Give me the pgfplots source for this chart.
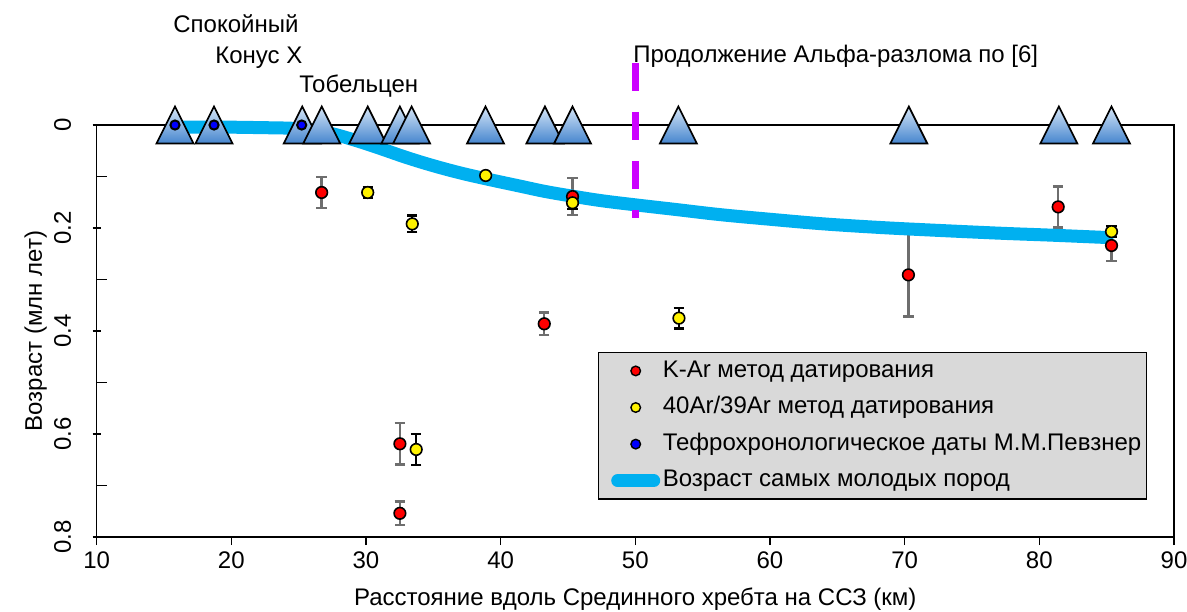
\documentclass[border=0pt]{standalone}
\usepackage{fontspec}
\setmainfont{Liberation Sans}
\usepackage{pgfplots}
\pgfplotsset{compat=1.18}
\definecolor{lineblue}{HTML}{00B0F0}
\definecolor{faultmag}{HTML}{CC00FF}
\definecolor{errgray}{HTML}{6E6E6E}
\definecolor{leggray}{HTML}{D9D9D9}
\definecolor{tritop}{HTML}{D6E6F7}
\definecolor{tribot}{HTML}{4585CE}
\pgfdeclareverticalshading{trishade}{100bp}{color(0bp)=(tribot); color(25bp)=(tribot); color(75bp)=(tritop); color(100bp)=(tritop)}
\pgfdeclareplotmark{shadetri}{%
  \pgfpathmoveto{\pgfqpoint{0pt}{9.25pt}}%
  \pgfpathlineto{\pgfqpoint{-9.25pt}{-9.25pt}}%
  \pgfpathlineto{\pgfqpoint{9.25pt}{-9.25pt}}%
  \pgfpathclose
  \pgfshadepath{trishade}{0}%
  \pgfpathmoveto{\pgfqpoint{0pt}{9.25pt}}%
  \pgfpathlineto{\pgfqpoint{-9.25pt}{-9.25pt}}%
  \pgfpathlineto{\pgfqpoint{9.25pt}{-9.25pt}}%
  \pgfpathclose
  \pgfusepathqstroke
}
\pgfplotstableread{
x y e
26.71 0.131 0.030
32.52 0.619 0.040
32.52 0.754 0.023
43.24 0.386 0.022
45.34 0.139 0.036
70.28 0.291 0.081
81.40 0.159 0.040
85.36 0.234 0.030
}\kar
\pgfplotstableread{
x y e
30.13 0.131 0.011
33.44 0.192 0.016
33.73 0.630 0.030
38.89 0.098 0.000
45.34 0.151 0.012
53.24 0.375 0.020
85.36 0.207 0.011
}\arar
\pgfplotstableread{
x y
15.82 0
18.72 0
25.27 0
26.72 0
30.13 0
32.52 0
33.39 0
38.88 0
43.29 0
45.34 0
53.20 0
70.31 0
81.45 0
85.36 0
}\volc
\pgfplotstableread{
x y
15.82 0
18.72 0
25.23 0
}\tefro
\begin{document}
\begin{tikzpicture}[font=\fontsize{12}{14.4}\selectfont]
\begin{axis}[
  scale only axis, width=538.7pt, height=206pt,
  xmin=10, xmax=90, ymin=0, ymax=0.8, y dir=reverse,
  xtick={10,20,...,90}, ytick={0,0.2,0.4,0.6,0.8},
  minor ytick={0.1,0.3,0.5,0.7},
  xtick pos=bottom, ytick pos=left,
  xtick align=outside, ytick align=center,
  major tick length=4pt, minor tick length=5pt,
  minor y tick style={xshift=2.5pt},
  tick style={black, line width=0.7pt},
  axis line style={line width=0.8pt},
  clip=false,
  /pgf/number format/assume math mode=true,
  tick label style={font=\fontsize{12}{14.4}\selectfont},
  yticklabel style={xshift=-10.8pt, rotate=90, anchor=base, inner sep=0pt},
  xticklabel style={anchor=base, inner sep=0pt, yshift=-11.5pt},
  xlabel={Расстояние вдоль Срединного хребта на ССЗ (км)},
  ylabel={Возраст (млн лет)},
  xlabel style={at={([yshift=-34pt]axis description cs:0.5,0)}, anchor=base, inner sep=0pt},
  ylabel style={at={([xshift=-27.3pt]axis description cs:0,0.5)}, anchor=base, inner sep=0pt},
  legend style={at={(0.4654,0.449)}, anchor=north west, fill=leggray, draw=black, line width=0.6pt,
    inner xsep=1.5pt, inner ysep=0pt, row sep=0pt,
    nodes={inner ysep=3.25pt, inner xsep=1pt, text height=9pt, text depth=2.8pt}},
  legend cell align=left,
]
% error bars
\addplot[only marks, mark=none, forget plot, error bars/.cd, y dir=both, y explicit,
  error bar style={errgray, line width=1.2pt},
  error mark options={errgray, rotate=90, mark size=2.6pt, line width=1.2pt}]
  table[x=x, y=y, y error=e] {\kar};
\addplot[only marks, mark=none, forget plot, error bars/.cd, y dir=both, y explicit,
  error bar style={black, line width=1.2pt},
  error mark options={black, rotate=90, mark size=2.6pt, line width=1.2pt}]
  table[x=x, y=y, y error=e] {\arar};
% youngest rocks line
\addplot[lineblue, line width=6.5pt, smooth, tension=0.6, forget plot] coordinates {
(15.8,0.004) (19,0.004) (22,0.005) (25,0.007) (27,0.014) (29,0.028) (31,0.045)
(33,0.063) (35,0.079) (37,0.093) (39,0.105) (41.5,0.119) (43.3,0.129)
(45.3,0.138) (47.5,0.147) (50,0.155) (53,0.164) (56.3,0.174) (60,0.183)
(64,0.192) (68.2,0.199) (72,0.204) (77,0.210) (81,0.214) (85.5,0.219)};
% fault
\addplot[faultmag, line width=3.5pt, dash pattern=on 14pt off 10.5pt, forget plot]
  coordinates {(50,-0.120) (50,0.181)};
% volcanoes
\addplot[only marks, mark=shadetri, mark options={draw=black, line width=0.85pt}, forget plot]
  table[x=x, y=y] {\volc};
\addplot[only marks, mark=*, mark size=2.3pt, mark options={fill=blue, draw=black, line width=1pt}, forget plot]
  table[x=x, y=y] {\tefro};
\addplot[only marks, mark=*, mark size=2.9pt, mark options={fill=red, draw=black, line width=0.8pt}, forget plot]
  table[x=x, y=y] {\kar};
\addplot[only marks, mark=*, mark size=2.9pt, mark options={fill=yellow, draw=black, line width=0.8pt}, forget plot]
  table[x=x, y=y] {\arar};
% legend
\addlegendimage{legend image code/.code={\path (0pt,-3pt) (29pt,3pt);
  \draw[only marks, mark=*, mark size=2.4pt, mark options={fill=red, draw=black, line width=0.7pt}] plot coordinates {(16.75pt,0pt)};}}
\addlegendentry{K-Ar метод датирования}
\addlegendimage{legend image code/.code={\path (0pt,-3pt) (29pt,3pt);
  \draw[only marks, mark=*, mark size=2.4pt, mark options={fill=yellow, draw=black, line width=0.7pt}] plot coordinates {(16.75pt,0pt)};}}
\addlegendentry{40Ar/39Ar метод датирования}
\addlegendimage{legend image code/.code={\path (0pt,-3pt) (29pt,3pt);
  \draw[only marks, mark=*, mark size=2.4pt, mark options={fill=blue, draw=black, line width=0.7pt}] plot coordinates {(16.75pt,0pt)};}}
\addlegendentry{Тефрохронологическое даты М.М.Певзнер}
\addlegendimage{legend image code/.code={\path (0pt,-3pt) (29pt,3pt);
  \draw[lineblue, line width=6.5pt, line cap=round] (7.75pt,0pt) -- (25.75pt,0pt);}}
\addlegendentry{Возраст самых молодых пород}
% annotations
\node[anchor=base west, inner sep=0pt] at (axis cs:15.67,-0.1806) {Спокойный};
\node[anchor=base west, inner sep=0pt] at (axis cs:18.79,-0.1204) {Конус X};
\node[anchor=base west, inner sep=0pt] at (axis cs:25.03,-0.0641) {Тобельцен};
\node[anchor=base west, inner sep=0pt] at (axis cs:49.82,-0.1223) {Продолжение Альфа-разлома по [6]};
\end{axis}
\pgfresetboundingbox
\path[use as bounding box] ([shift={(-48.3pt,-37pt)}]current axis.south west) rectangle ([shift={(545.2pt,268.5pt)}]current axis.south west);
\end{tikzpicture}
\end{document}
